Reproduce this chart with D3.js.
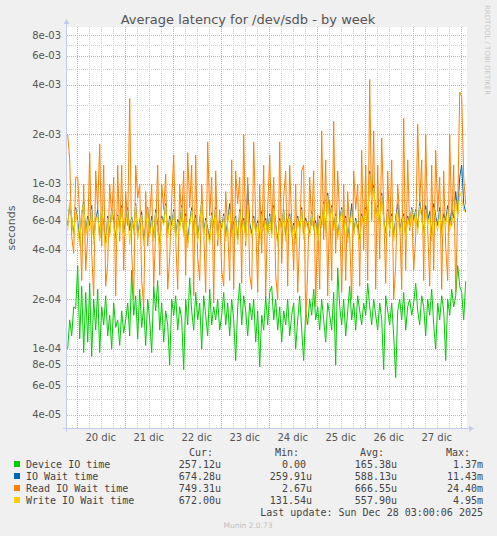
<!DOCTYPE html>
<html>
<head>
<meta charset="utf-8">
<script src="https://cdn.jsdelivr.net/npm/d3@7"></script>
<style>
  body { margin: 0; background: #f0f0f0; }
  svg { display: block; }
</style>
</head>
<body>
<div id="chart"></div>
<script>
// valores en microsegundos, una muestra por hora desde 19 dic 19:30 UTC
var deviceIO = [100, 150, 120, 180, 175,
  320, 115, 240, 95, 220, 110, 250, 90, 200, 130, 230, 95, 180, 140, 210, 120, 160, 100, 190, 135, 150, 105, 170, 125,
  150, 190, 120, 300, 160, 210, 115, 230, 135, 180, 105, 200, 150, 95, 240, 170, 260, 130, 190, 110, 170, 140, 80, 200,
  160, 210, 130, 180, 150, 75, 200, 140, 270, 170, 130, 220, 150, 190, 100, 210, 160, 120, 230, 140, 180, 150, 200, 130,
  160, 220, 140, 190, 120, 200, 150, 85, 180, 250, 140, 210, 170, 120, 190, 150, 200, 110, 170, 78, 160, 130, 210, 140,
  220, 240, 150, 200, 130, 180, 110, 170, 140, 200, 120, 160, 190, 100, 150, 210, 130, 85, 170, 140, 200, 160, 230, 150,
  180, 130, 200, 150, 110, 190, 160, 130, 220, 80, 310, 180, 140, 200, 120, 170, 240, 150, 190, 130, 210, 170, 140, 190,
  160, 250, 180, 140, 200, 160, 130, 190, 150, 75, 210, 170, 140, 190, 120, 67, 170, 200, 150, 220, 130, 180, 200, 160,
  190, 250, 170, 140, 210, 180, 120, 200, 160, 230, 140, 100, 190, 150, 210, 170, 85, 200, 160, 230, 180, 210, 320, 240,
  220, 150, 257];

var ioWait = [560, 760, 620, 500, 720,
  600, 450, 660, 780, 500, 640, 560, 740, 460, 600, 700, 470, 720, 560, 440, 640, 500, 700, 600, 460, 650, 540, 740, 500,
  590, 720, 520, 630, 520, 760, 480, 600, 680, 450, 560, 720, 500, 640, 470, 700, 560, 430, 640, 580, 760, 500, 640, 560,
  700, 480, 610, 560, 740, 500, 660, 440, 590, 720, 520, 650, 470, 600, 780, 500, 620, 540, 460, 670, 560, 720, 480, 600,
  540, 660, 480, 600, 760, 500, 580, 640, 460, 700, 540, 620, 480, 1000, 580, 500, 640, 520, 600, 460, 680, 540, 620, 500,
  660, 500, 740, 580, 450, 620, 540, 700, 480, 600, 660, 500, 580, 460, 640, 540, 720, 480, 620, 560, 500, 680, 540, 600,
  480, 640, 560, 780, 500, 880, 620, 740, 540, 660, 480, 600, 720, 520, 640, 470, 580, 760, 500, 620, 540, 460, 660, 580,
  720, 580, 1200, 820, 980, 640, 740, 560, 880, 620, 500, 700, 540, 660, 480, 620, 760, 520, 600, 660, 480, 640, 560, 720,
  600, 700, 540, 780, 640, 500, 740, 600, 680, 480, 760, 640, 560, 720, 500, 660, 600, 740, 560, 700, 620, 900, 660, 1100,
  1300, 760, 674];

var readWait = [2000, 1400, 480, 380, 1100,
  1100, 640, 260, 1000, 300, 480, 1550, 380, 210, 1200, 700, 1750, 420, 1300, 240, 330, 1000, 620, 1100, 210, 1300, 450, 1300, 300,
  900, 560, 3300, 380, 200, 1300, 820, 1000, 260, 180, 900, 420, 640, 1000, 240, 520, 1300, 280, 1000, 700, 1150, 230, 360, 800,
  1500, 460, 230, 1000, 600, 1200, 280, 1550, 720, 1300, 210, 1500, 360, 260, 1000, 520, 220, 1800, 640, 1100, 190, 1200, 420, 700,
  300, 240, 900, 540, 260, 1400, 230, 1200, 760, 1100, 250, 2000, 420, 1100, 280, 230, 1800, 600, 220, 1000, 380, 1300, 210, 700,
  1500, 540, 1100, 280, 200, 1800, 330, 840, 1200, 240, 1300, 600, 300, 1000, 220, 480, 1200, 1300, 140, 300, 1100, 560, 1200, 180,
  650, 230, 2100, 460, 1400, 210, 800, 260, 2400, 380, 1200, 620, 220, 1000, 260, 900, 480, 200, 1200, 700, 1000, 240, 1600, 400,
  1300, 260, 4300, 600, 2100, 230, 1300, 350, 1900, 700, 250, 1200, 480, 1400, 200, 320, 1000, 620, 230, 2500, 300, 1400, 520, 700,
  300, 480, 2300, 760, 1400, 260, 2000, 540, 240, 1300, 300, 1600, 680, 1100, 230, 1200, 420, 260, 2000, 560, 1300, 220, 700, 3600,
  3400, 1100, 750];

var writeWait = [520, 780, 640, 470, 700,
  560, 420, 680, 750, 480, 610, 520, 700, 430, 590, 660, 450, 720, 530, 400, 620, 480, 690, 560, 430, 640, 510, 720, 470,
  560, 690, 430, 610, 500, 740, 460, 580, 650, 420, 540, 710, 480, 600, 450, 670, 530, 400, 620, 560, 740, 470, 610, 520,
  680, 450, 590, 520, 720, 480, 640, 410, 560, 690, 500, 620, 440, 580, 760, 470, 600, 520, 430, 650, 540, 700, 460, 580,
  520, 640, 450, 580, 700, 480, 560, 620, 430, 680, 510, 600, 450, 740, 540, 470, 620, 500, 580, 430, 660, 520, 600, 480,
  640, 470, 720, 560, 420, 600, 520, 680, 450, 580, 640, 480, 560, 430, 620, 520, 700, 460, 600, 540, 480, 660, 520, 580,
  450, 620, 540, 760, 480, 850, 600, 720, 520, 640, 460, 580, 700, 500, 620, 440, 560, 680, 480, 600, 520, 430, 640, 560,
  700, 560, 1150, 800, 950, 620, 720, 540, 850, 600, 470, 680, 520, 640, 450, 600, 700, 500, 580, 640, 460, 620, 540, 700,
  560, 680, 500, 740, 620, 480, 700, 560, 640, 450, 720, 600, 520, 680, 480, 620, 560, 700, 520, 640, 580, 800, 620, 900,
  820, 700, 672];

var seriesNames = ["Device IO time", "IO Wait time", "Read IO Wait time", "Write IO Wait time"];
var seriesColors = ["#00cc00", "#0066b3", "#ff8000", "#ffcc00"];
var curValues = ["257.12u", "674.28u", "749.31u", "672.00u"];
var minValues = ["0.00 ", "259.91u", "2.67u", "131.54u"];
var avgValues = ["165.38u", "588.13u", "666.55u", "557.90u"];
var maxValues = ["1.37m", "11.43m", "24.40m", "4.95m"];
var yTickLabels = ["4e-05", "6e-05", "8e-05", "1e-04", "2e-04", "4e-04", "6e-04", "8e-04",
                   "1e-03", "2e-03", "4e-03", "6e-03", "8e-03"];
var xTickLabels = ["20 dic", "21 dic", "22 dic", "23 dic", "24 dic", "25 dic", "26 dic", "27 dic"];

var W = 497, H = 536;
var plotLeft = 67, plotRight = 467, plotTop = 27, plotBottom = 429;

var svg = d3.select("#chart").append("svg")
    .attr("width", W)
    .attr("height", H);

svg.append("rect")
    .attr("width", W).attr("height", H)
    .attr("fill", "#f0f0f0");

svg.append("rect")
    .attr("x", plotLeft).attr("y", plotTop)
    .attr("width", plotRight - plotLeft).attr("height", plotBottom - plotTop)
    .attr("fill", "#ffffff");

var t0 = Date.UTC(2025, 11, 19, 19, 30);
var times = deviceIO.map((_, i) => new Date(t0 + i * 3600e3));

var x = d3.scaleUtc()
    .domain([new Date(Date.UTC(2025, 11, 19, 19, 9)), new Date(Date.UTC(2025, 11, 28, 3, 9))])
    .range([plotLeft, plotRight]);

var y = d3.scaleLog()
    .domain([3.27e-5, 8.95e-3])
    .range([plotBottom, plotTop]);

// rejilla horizontal
var majorVals = yTickLabels.map(s => +s);
var minorVals = y.ticks().filter(v => !majorVals.some(m => Math.abs(m - v) / v < 1e-6));

svg.selectAll("line.hminor")
    .data(minorVals)
    .enter().append("line")
    .attr("x1", plotLeft).attr("x2", plotRight)
    .attr("y1", d => Math.round(y(d)) + 0.5).attr("y2", d => Math.round(y(d)) + 0.5)
    .attr("stroke", "#cfcfcf").attr("stroke-dasharray", "1,1");

// rejilla vertical
var hours6 = d3.utcHour.every(6).range(x.domain()[0], x.domain()[1]);
svg.selectAll("line.vminor")
    .data(hours6.filter(d => d.getUTCHours() !== 0))
    .enter().append("line")
    .attr("y1", plotTop).attr("y2", plotBottom)
    .attr("x1", d => Math.round(x(d)) + 0.5).attr("x2", d => Math.round(x(d)) + 0.5)
    .attr("stroke", "#cfcfcf").attr("stroke-dasharray", "1,1");

svg.selectAll("line.hmajor")
    .data(majorVals)
    .enter().append("line")
    .attr("x1", plotLeft).attr("x2", plotRight)
    .attr("y1", d => Math.round(y(d)) + 0.5).attr("y2", d => Math.round(y(d)) + 0.5)
    .attr("stroke", "#f0a0a0").attr("stroke-dasharray", "1,1");

var days = d3.utcDay.range(x.domain()[0], x.domain()[1]);
svg.selectAll("line.vmajor")
    .data(days)
    .enter().append("line")
    .attr("y1", plotTop).attr("y2", plotBottom)
    .attr("x1", d => Math.round(x(d)) + 0.5).attr("x2", d => Math.round(x(d)) + 0.5)
    .attr("stroke", "#f0a0a0").attr("stroke-dasharray", "1,1");

// líneas de datos
var clip = svg.append("defs").append("clipPath").attr("id", "plot-clip");
clip.append("rect").attr("x", plotLeft).attr("y", plotTop)
    .attr("width", plotRight - plotLeft).attr("height", plotBottom - plotTop);

var line = d3.line()
    .x((d, i) => x(times[i]))
    .y(d => y(d * 1e-6));

[deviceIO, ioWait, readWait, writeWait].forEach(function(s, k) {
    svg.append("path")
        .datum(s)
        .attr("clip-path", "url(#plot-clip)")
        .attr("fill", "none")
        .attr("stroke", seriesColors[k])
        .attr("stroke-width", 1)
        .attr("d", line);
});

// ejes
var axisColor = "#c4cbef";
svg.append("line")
    .attr("x1", plotLeft - 0.5).attr("x2", plotLeft - 0.5)
    .attr("y1", plotBottom + 3).attr("y2", plotTop - 4)
    .attr("stroke", axisColor);
svg.append("path")
    .attr("d", `M${plotLeft - 3.5},${plotTop - 3} L${plotLeft - 0.5},${plotTop - 8} L${plotLeft + 2.5},${plotTop - 3} Z`)
    .attr("fill", axisColor);
svg.append("line")
    .attr("x1", plotLeft - 4).attr("x2", plotRight + 3)
    .attr("y1", plotBottom - 0.5).attr("y2", plotBottom - 0.5)
    .attr("stroke", axisColor);
svg.append("path")
    .attr("d", `M${plotRight + 2},${plotBottom - 3.5} L${plotRight + 7},${plotBottom - 0.5} L${plotRight + 2},${plotBottom + 2.5} Z`)
    .attr("fill", axisColor);

// etiquetas de ejes
svg.selectAll("text.ytick")
    .data(yTickLabels)
    .enter().append("text")
    .attr("x", 61)
    .attr("y", d => y(+d) + 3.5)
    .attr("text-anchor", "end")
    .attr("font-family", "DejaVu Sans")
    .attr("font-size", "10px")
    .attr("fill", "#555")
    .text(d => d);

svg.selectAll("text.xtick")
    .data(xTickLabels)
    .enter().append("text")
    .attr("x", (d, i) => x(d3.utcHour.offset(days[i], 12)))
    .attr("y", 441)
    .attr("text-anchor", "middle")
    .attr("font-family", "DejaVu Sans")
    .attr("font-size", "10px")
    .attr("fill", "#555")
    .text(d => d);

svg.append("text")
    .attr("transform", "translate(15,228) rotate(-90)")
    .attr("text-anchor", "middle")
    .attr("font-family", "DejaVu Sans")
    .attr("font-size", "11px")
    .attr("fill", "#555")
    .text("seconds");

svg.append("text")
    .attr("x", 248)
    .attr("y", 24)
    .attr("text-anchor", "middle")
    .attr("font-family", "DejaVu Sans")
    .attr("font-size", "13px")
    .attr("fill", "#555")
    .text("Average latency for /dev/sdb - by week");

svg.append("text")
    .attr("transform", "translate(485,5) rotate(90)")
    .attr("font-family", "DejaVu Sans")
    .attr("font-size", "7px")
    .attr("fill", "#c8c8c8")
    .text("RRDTOOL / TOBI OETIKER");

// leyenda
var mono = "DejaVu Sans Mono";
var headers = [["Cur:", 213], ["Min:", 299], ["Avg:", 384], ["Max:", 470]];
headers.forEach(function(h) {
    svg.append("text")
        .attr("x", h[1]).attr("y", 456)
        .attr("text-anchor", "end")
        .attr("font-family", mono).attr("font-size", "10px")
        .attr("fill", "#444")
        .text(h[0]);
});

seriesNames.forEach(function(name, i) {
    var by = 468 + i * 12;
    svg.append("rect")
        .attr("x", 14).attr("y", by - 7)
        .attr("width", 6).attr("height", 6)
        .attr("fill", seriesColors[i]);
    svg.append("text")
        .attr("x", 26).attr("y", by)
        .attr("font-family", mono).attr("font-size", "10px")
        .attr("fill", "#444")
        .text(name);
    [[curValues, 221], [minValues, 312], [avgValues, 397], [maxValues, 483]].forEach(function(c) {
        svg.append("text")
            .attr("x", c[1]).attr("y", by)
            .attr("text-anchor", "end")
            .attr("font-family", mono).attr("font-size", "10px")
            .attr("fill", "#444")
            .style("white-space", "pre")
            .text(c[0][i]);
    });
});

svg.append("text")
    .attr("x", 483).attr("y", 516)
    .attr("text-anchor", "end")
    .attr("font-family", mono).attr("font-size", "10px")
    .attr("fill", "#444")
    .text("Last update: Sun Dec 28 03:00:06 2025");

svg.append("text")
    .attr("x", 248).attr("y", 528)
    .attr("text-anchor", "middle")
    .attr("font-family", "DejaVu Sans").attr("font-size", "7.5px")
    .attr("fill", "#c0c0c0")
    .text("Munin 2.0.73");
</script>
</body>
</html>
